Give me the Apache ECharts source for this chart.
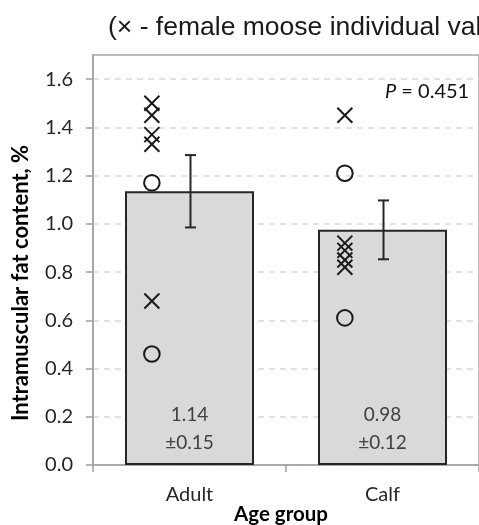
<!DOCTYPE html>
<html>
<head>
<meta charset="utf-8">
<script src="https://cdn.jsdelivr.net/npm/echarts@6/dist/echarts.min.js"></script>
<style>html,body{margin:0;padding:0;background:#fff;}#c{width:479px;height:525px;}</style>
</head>
<body>
<div id="c"></div>
<script>
const categories = ['Adult', 'Calf'];
const means = [1.135, 0.975];
const se = [0.15, 0.122];
const meanLabels = ['1.14', '0.98'];
const seLabels = ['±0.15', '±0.12'];
const femaleValues = [[1.50, 1.45, 1.37, 1.33, 0.68], [1.45, 0.92, 0.89, 0.85, 0.82]];
const maleValues = [[1.17, 0.46], [1.21, 0.61]];
const yTicks = [0, 0.2, 0.4, 0.6, 0.8, 1.0, 1.2, 1.4, 1.6];
const yMax = 1.7;
const pText = '{i|P} = 0.451';
const titleText = '(× - female moose individual values)';
const yName = 'Intramuscular fat content, %';
const xName = 'Age group';

const FONT = 'Lato';
const INK = '#262626';

const femaleData = [], maleData = [];
femaleValues.forEach((arr, i) => arr.forEach(v => femaleData.push([i, v])));
maleValues.forEach((arr, i) => arr.forEach(v => maleData.push([i, v])));
const errData = means.map((m, i) => [i, m + se[i], m - se[i]]);

const chart = echarts.init(document.getElementById('c'), null, {renderer: 'canvas'});
chart.setOption({
  animation: false,
  backgroundColor: '#fff',
  grid: {left: 93, right: 0, top: 55, bottom: 60, outerBoundsMode: 'none', containLabel: false, show: true, borderColor: '#a6a6a6', borderWidth: 1.5, backgroundColor: 'transparent'},
  graphic: [
    {type: 'text', left: 108, top: 14, style: {text: titleText, font: '26.5px "Liberation Sans"', fill: '#1a1a1a'}},
    {type: 'text', x: 21, y: 283, rotation: Math.PI / 2, style: {text: yName, font: 'bold 22px ' + FONT, fill: '#000', textAlign: 'center', textVerticalAlign: 'middle'}},
    {type: 'text', x: 281, y: 514, style: {text: xName, font: 'bold 20.5px ' + FONT, fill: '#000', textAlign: 'center', textVerticalAlign: 'middle'}},
    {type: 'text', left: 385, top: 82, style: {text: pText, font: '20px ' + FONT, fill: '#111', rich: {i: {fontStyle: 'italic', fontFamily: FONT, fontSize: 20, fill: '#111'}}}}
  ],
  xAxis: {
    type: 'category', data: categories,
    axisLine: {lineStyle: {color: '#a0a0a0', width: 1.5}},
    axisTick: {show: true, alignWithLabel: false, length: 7, lineStyle: {color: '#a0a0a0', width: 1.5}},
    axisLabel: {fontFamily: FONT, fontSize: 20, color: INK, margin: 20},
    splitLine: {show: false}
  },
  yAxis: {
    type: 'value', min: 0, max: yMax, interval: 0.2,
    axisLine: {show: true, lineStyle: {color: '#a0a0a0', width: 1.5}},
    axisTick: {show: true, length: 7, customValues: yTicks, lineStyle: {color: '#a0a0a0', width: 1.5}},
    axisLabel: {customValues: yTicks, fontFamily: FONT, fontSize: 20, color: INK, margin: 20, formatter: v => v.toFixed(1)},
    splitLine: {show: true, lineStyle: {color: '#d9d9d9', type: [6, 5], width: 1.5}}
  },
  series: [
    {
      type: 'bar', data: means, barWidth: 129, z: 2,
      itemStyle: {color: '#d9d9d9', borderColor: INK, borderWidth: 2},
      label: {
        show: true, position: 'insideBottom', distance: 8,
        formatter: p => meanLabels[p.dataIndex] + '\n' + seLabels[p.dataIndex],
        fontFamily: FONT, fontSize: 19, lineHeight: 28, color: '#404040'
      }
    },
    {
      type: 'custom', data: errData, z: 5,
      encode: {x: 0, y: [1, 2]},
      renderItem: (params, api) => {
        const top = api.coord([api.value(0), api.value(1)]);
        const bot = api.coord([api.value(0), api.value(2)]);
        const x = top[0] + 1, cap = 5.5;
        const st = {stroke: INK, lineWidth: 2};
        return {type: 'group', children: [
          {type: 'line', shape: {x1: x, y1: top[1], x2: x, y2: bot[1]}, style: st},
          {type: 'line', shape: {x1: x - cap, y1: top[1], x2: x + cap, y2: top[1]}, style: st},
          {type: 'line', shape: {x1: x - cap, y1: bot[1], x2: x + cap, y2: bot[1]}, style: st}
        ]};
      }
    },
    {
      type: 'custom', data: femaleData, z: 4,
      encode: {x: 0, y: 1},
      renderItem: (params, api) => {
        const c = api.coord([api.value(0), api.value(1)]);
        const bw = api.size([1, 0])[0];
        const x = c[0] - bw * 0.195, y = c[1], h = 7.5;
        const st = {stroke: '#1a1a1a', lineWidth: 2};
        return {type: 'group', children: [
          {type: 'line', shape: {x1: x - h, y1: y - h, x2: x + h, y2: y + h}, style: st},
          {type: 'line', shape: {x1: x - h, y1: y + h, x2: x + h, y2: y - h}, style: st}
        ]};
      }
    },
    {
      type: 'custom', data: maleData, z: 4,
      encode: {x: 0, y: 1},
      renderItem: (params, api) => {
        const c = api.coord([api.value(0), api.value(1)]);
        const bw = api.size([1, 0])[0];
        return {type: 'circle', shape: {cx: c[0] - bw * 0.195, cy: c[1], r: 7.8}, style: {fill: 'none', stroke: '#1a1a1a', lineWidth: 2}};
      }
    }
  ]
});
</script>
</body>
</html>
